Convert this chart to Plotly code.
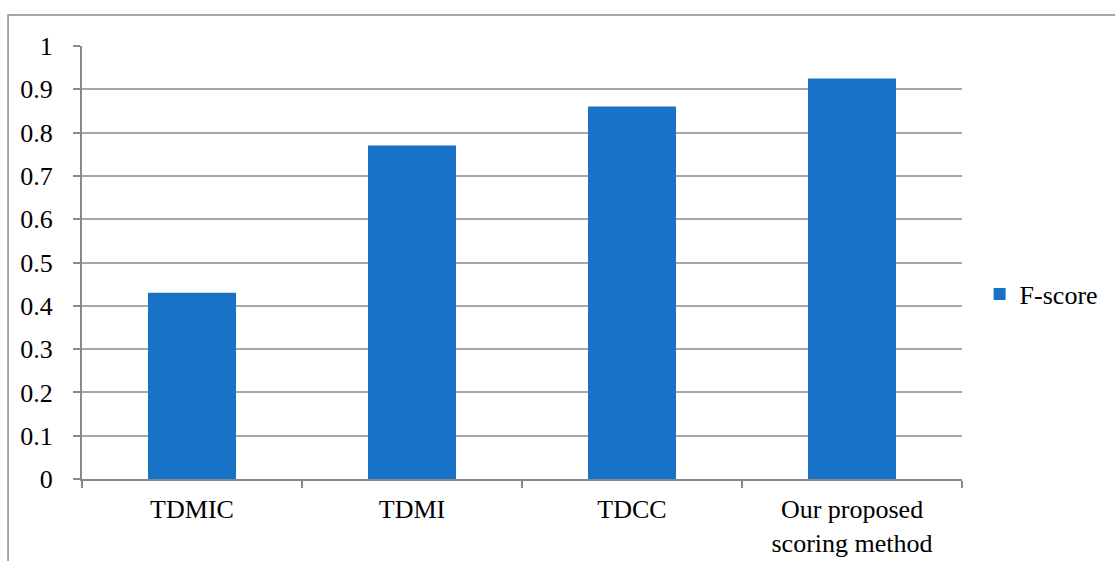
import plotly.graph_objects as go

categories = ["TDMIC", "TDMI", "TDCC", "Our proposed<br>scoring method"]
f_score = [0.43, 0.77, 0.86, 0.925]
y_ticks = [0, 0.1, 0.2, 0.3, 0.4, 0.5, 0.6, 0.7, 0.8, 0.9, 1]
y_tick_labels = ["0", "0.1", "0.2", "0.3", "0.4", "0.5", "0.6", "0.7", "0.8", "0.9", "1"]

FONT = "Liberation Serif, Times New Roman, serif"
GRID = "#A6A6A6"
AXIS = "#898989"

fig = go.Figure()
fig.add_trace(go.Bar(
    x=categories, y=f_score, name="F-score",
    marker=dict(color="#1872C8", line=dict(width=0)),
    width=0.4,
))

fig.update_layout(
    width=1115, height=561,
    margin=dict(l=82, r=153, t=46, b=82),
    paper_bgcolor="white", plot_bgcolor="white",
    font=dict(family=FONT, size=26, color="black"),
    showlegend=True,
    legend=dict(x=1.02, xanchor="left", y=0.427, yanchor="middle",
                font=dict(family=FONT, size=26, color="black"),
                bgcolor="rgba(0,0,0,0)"),
    bargap=0.6,
)

fig.update_xaxes(
    showline=True, linecolor=AXIS, linewidth=2,
    ticks="outside", tickson="boundaries", ticklen=7, tickcolor=AXIS, tickwidth=1.5,
    showgrid=False, ticklabelstandoff=6, automargin=False,
)
fig.update_yaxes(
    range=[0, 1], tickvals=y_ticks, ticktext=y_tick_labels,
    showline=True, linecolor=AXIS, linewidth=2,
    ticks="outside", ticklen=7, tickcolor=AXIS, tickwidth=1.5,
    showgrid=True, gridcolor=GRID, gridwidth=1.5,
    zeroline=False, ticklabelstandoff=15, automargin=False,
)

# outer chart border
fig.add_shape(type="rect", xref="paper", yref="paper",
              x0=-0.084, x1=1.2, y0=-0.3, y1=1.0716,
              line=dict(color="#8C8C8C", width=1.5), layer="below")

fig.write_html("out.html")
